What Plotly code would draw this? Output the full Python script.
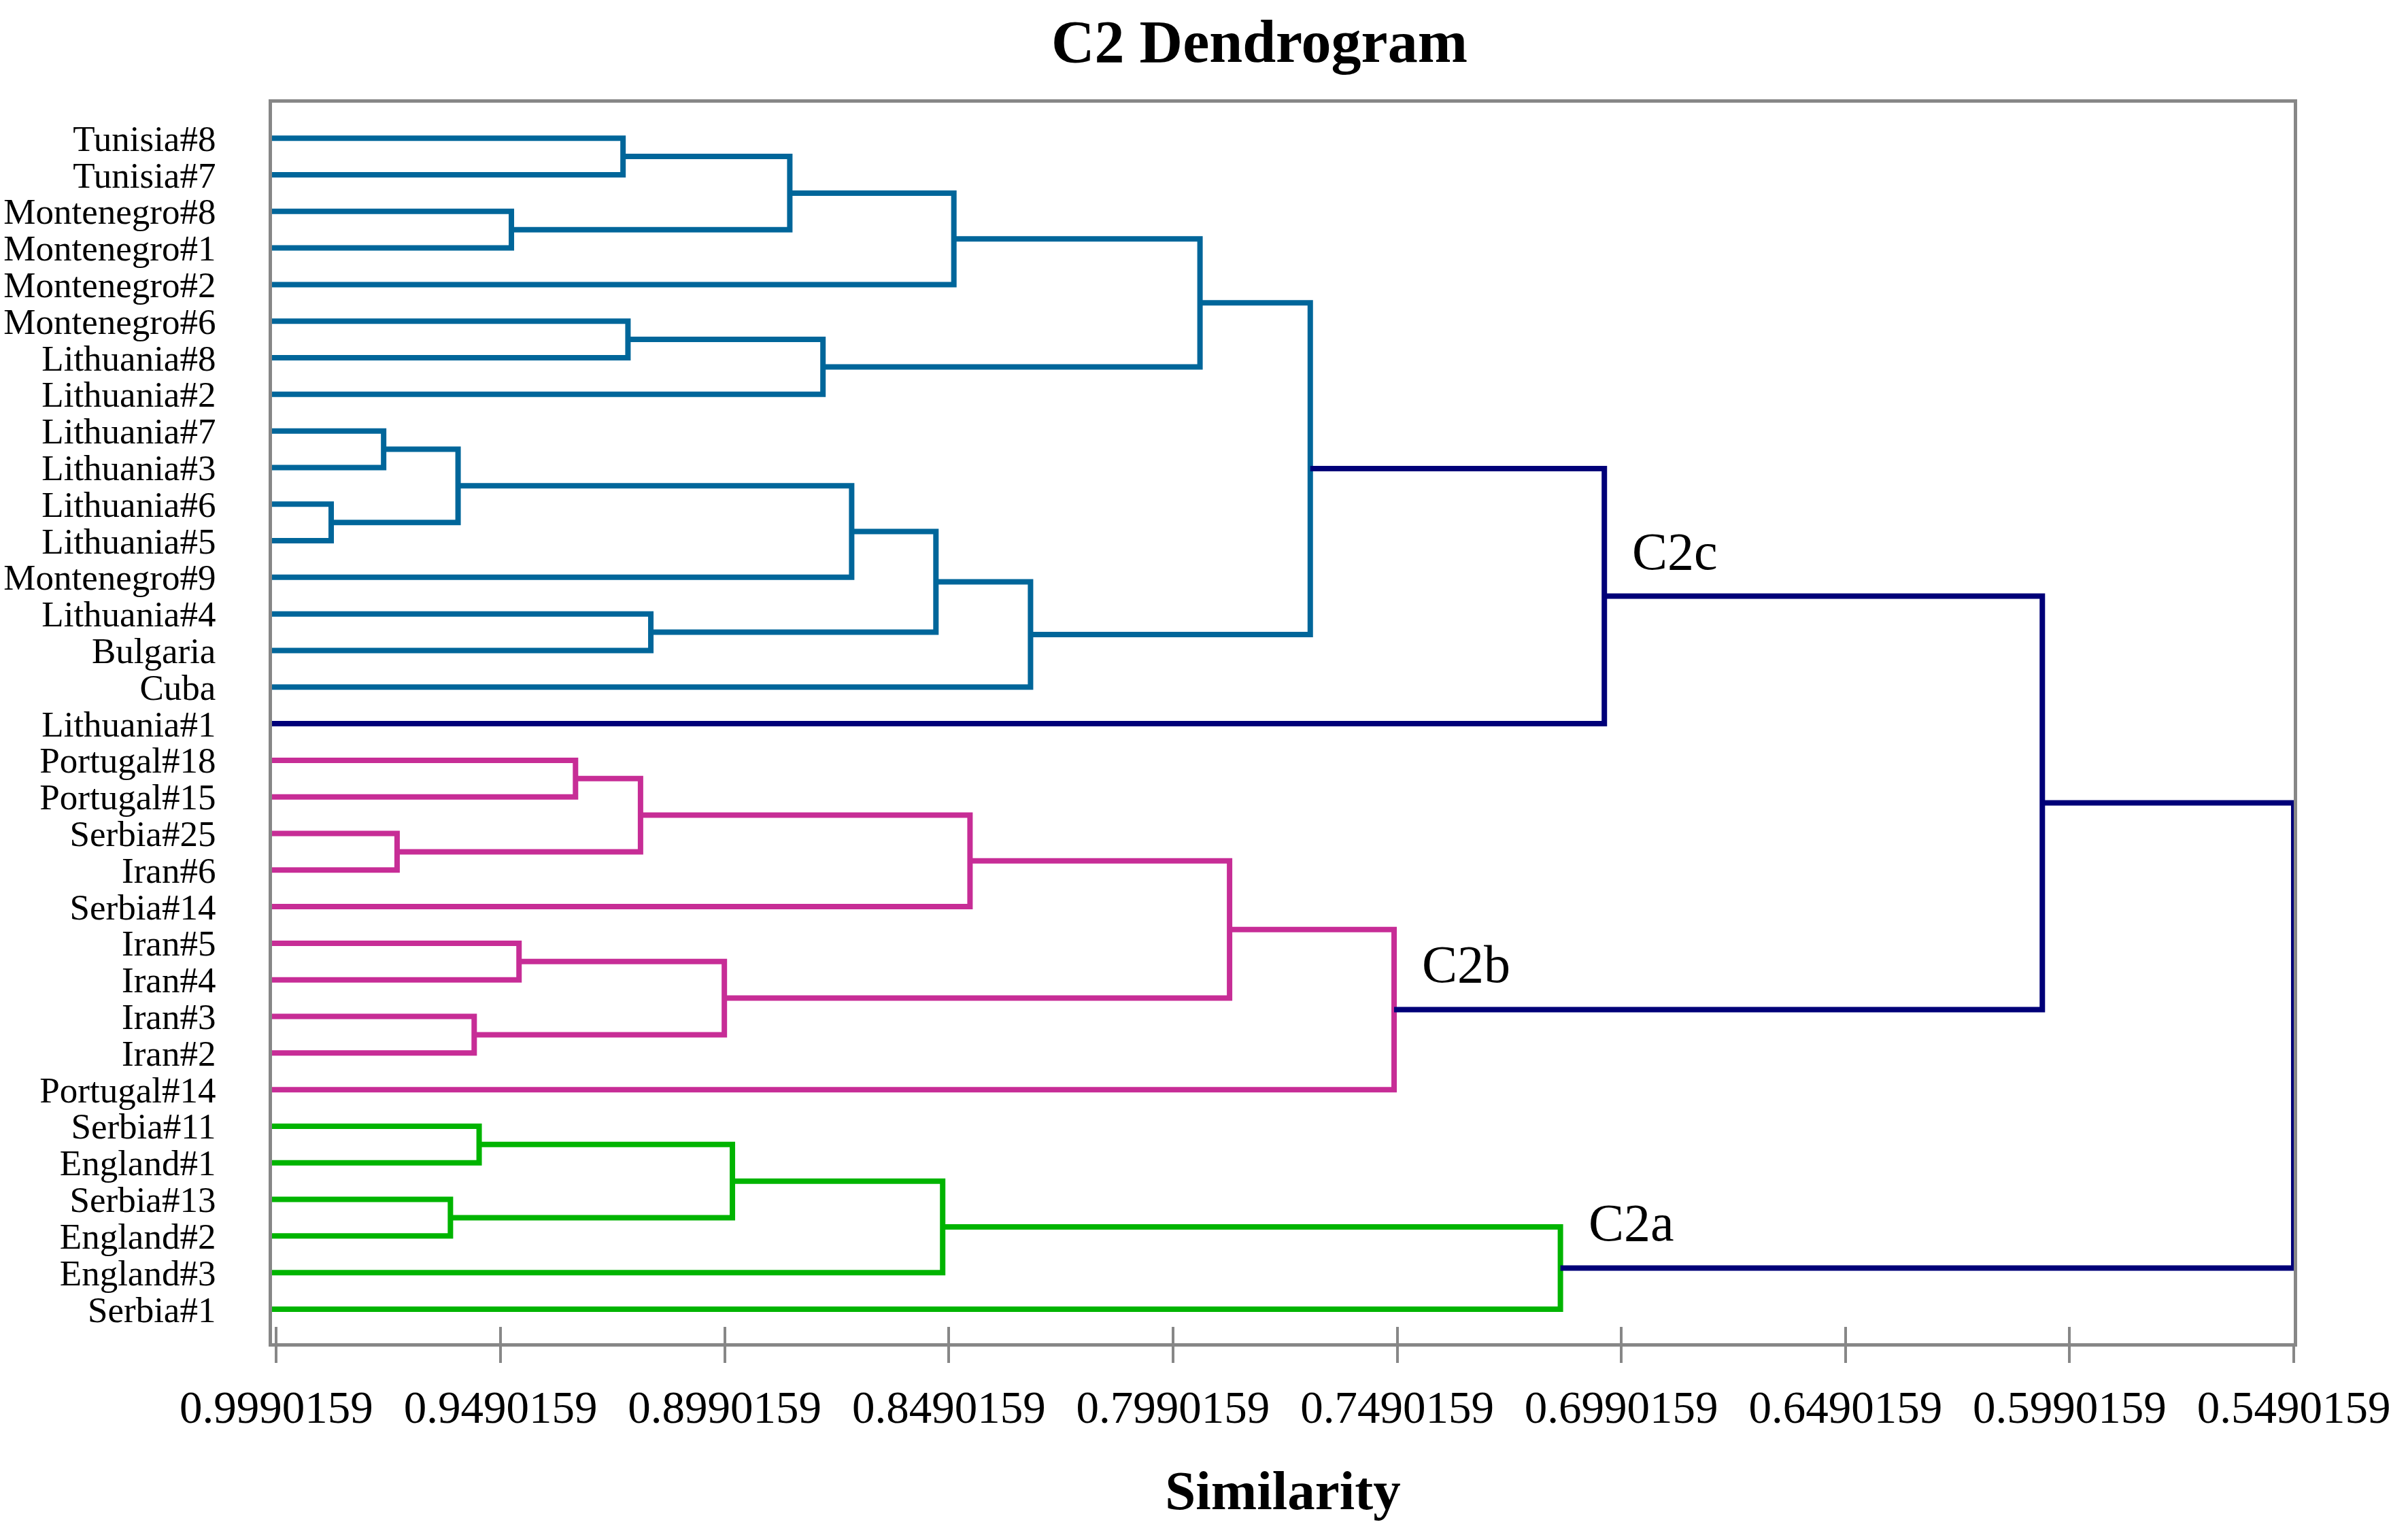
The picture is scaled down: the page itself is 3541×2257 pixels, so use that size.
import plotly.graph_objects as go

# ---------------- data ----------------
leaves = ["Tunisia#8", "Tunisia#7", "Montenegro#8", "Montenegro#1", "Montenegro#2",
          "Montenegro#6", "Lithuania#8", "Lithuania#2", "Lithuania#7", "Lithuania#3",
          "Lithuania#6", "Lithuania#5", "Montenegro#9", "Lithuania#4", "Bulgaria", "Cuba",
          "Lithuania#1", "Portugal#18", "Portugal#15", "Serbia#25", "Iran#6", "Serbia#14",
          "Iran#5", "Iran#4", "Iran#3", "Iran#2", "Portugal#14", "Serbia#11", "England#1",
          "Serbia#13", "England#2", "England#3", "Serbia#1"]
leaf_similarity = 1.0

merge_id = ["m1", "m2", "m3", "m4", "m5", "m6", "m7", "m8", "m9", "m10", "m11", "m12",
            "m13", "m14", "m15", "m16", "m17", "m18", "m19", "m20", "m21", "m22", "m23",
            "m24", "m25", "m26", "m27", "m28", "m29", "m30", "m31", "m32"]
merge_a = ["Tunisia#8", "Montenegro#8", "m1", "m3", "Montenegro#6", "m5", "m4",
           "Lithuania#7", "Lithuania#6", "m8", "m10", "Lithuania#4", "m11", "m13", "m7",
           "m15", "Portugal#18", "Serbia#25", "m17", "m19", "Iran#5", "Iran#3", "m21",
           "m20", "m24", "Serbia#11", "Serbia#13", "m26", "m28", "m29", "m16", "m31"]
merge_b = ["Tunisia#7", "Montenegro#1", "m2", "Montenegro#2", "Lithuania#8", "Lithuania#2",
           "m6", "Lithuania#3", "Lithuania#5", "m9", "Montenegro#9", "Bulgaria", "m12",
           "Cuba", "m14", "Lithuania#1", "Portugal#15", "Iran#6", "m18", "Serbia#14",
           "Iran#4", "Iran#2", "m22", "m23", "Portugal#14", "England#1", "England#2", "m27",
           "England#3", "Serbia#1", "m25", "m30"]
merge_similarity = [0.9217, 0.9466, 0.8845, 0.8479, 0.9206, 0.8771, 0.7930,
                    0.9751, 0.9868, 0.9585, 0.8707, 0.9155, 0.8519, 0.8308, 0.7684,
                    0.7028, 0.9323, 0.9721, 0.9178, 0.8443, 0.9449, 0.9549, 0.8991,
                    0.7864, 0.7497, 0.9538, 0.9602, 0.8973, 0.8504, 0.7126, 0.6051,
                    0.5490159]
merge_group = ["C2c"] * 15 + ["root"] + ["C2b"] * 9 + ["C2a"] * 5 + ["root", "root"]

cluster_labels = ["C2c", "C2b", "C2a"]
cluster_nodes = ["m16", "m25", "m30"]

tick_values = [0.9990159, 0.9490159, 0.8990159, 0.8490159, 0.7990159,
               0.7490159, 0.6990159, 0.6490159, 0.5990159, 0.5490159]
tick_labels = ["0.9990159", "0.9490159", "0.8990159", "0.8490159", "0.7990159",
               "0.7490159", "0.6990159", "0.6490159", "0.5990159", "0.5490159"]

title_text = "C2 Dendrogram"
x_title = "Similarity"

# ---------------- style ----------------
group_colors = {"C2c": "#00669A", "C2b": "#C72D96", "C2a": "#00B400", "root": "#000078"}
GRAY = "#878787"
FONT = "Liberation Serif, Times New Roman, serif"
LW = 8

# ---------------- geometry via tree ----------------
pos = {name: (leaf_similarity, i) for i, name in enumerate(leaves)}
segs = {g: ([], []) for g in group_colors}
for mid, a, b, h, g in zip(merge_id, merge_a, merge_b, merge_similarity, merge_group):
    ha, ya = pos[a]
    hb, yb = pos[b]
    xs, ys = segs[g]
    xs += [ha, h, h, hb, None]
    ys += [ya, ya, yb, yb, None]
    pos[mid] = (h, (ya + yb) / 2)

fig = go.Figure()
for g, (xs, ys) in segs.items():
    fig.add_trace(go.Scatter(x=xs, y=ys, mode="lines",
                             line=dict(color=group_colors[g], width=LW),
                             hoverinfo="skip", showlegend=False))
# helper trace to activate the overlaid axis used for the inner half of the ticks
fig.add_trace(go.Scatter(x=tick_values, y=[None] * len(tick_values), xaxis="x2",
                         mode="lines", hoverinfo="skip", showlegend=False))

for lab, node in zip(cluster_labels, cluster_nodes):
    h, y = pos[node]
    fig.add_annotation(x=h, y=y, xref="x", yref="y", text=lab, showarrow=False,
                       xanchor="left", yanchor="bottom", xshift=39, yshift=21,
                       font=dict(family=FONT, size=78, color="black"))

xrange = [leaf_similarity, tick_values[-1]]
fig.update_layout(
    width=3541, height=2257,
    margin=dict(l=400, r=168, t=151, b=282, pad=0, autoexpand=False),
    paper_bgcolor="white", plot_bgcolor="white",
    showlegend=False,
    font=dict(family=FONT, color="black"),
    title=dict(text="<b>" + title_text + "</b>", x=1852 / 3541, xanchor="center",
               y=1 - 60 / 2257, yanchor="middle",
               font=dict(family=FONT, size=88, color="black")),
    xaxis=dict(range=xrange, tickvals=tick_values, ticktext=tick_labels,
               ticks="outside", ticklen=24, tickwidth=4, tickcolor=GRAY,
               showline=True, linewidth=5, linecolor=GRAY, mirror=True,
               showgrid=False, zeroline=False, layer="below traces",
               automargin=False,
               tickfont=dict(family=FONT, size=67, color="black"),
               ticklabelstandoff=8,
               title=dict(text="<b>" + x_title + "</b>", standoff=58,
                          font=dict(family=FONT, size=81, color="black"))),
    xaxis2=dict(range=xrange, overlaying="x", anchor="y", side="bottom",
                tickvals=tick_values, ticks="inside", ticklen=24, tickwidth=4,
                tickcolor=GRAY, showticklabels=False, showline=False,
                showgrid=False, zeroline=False, automargin=False),
    yaxis=dict(range=[32.93, -0.97], tickvals=list(range(len(leaves))), ticktext=leaves,
               ticks="", showline=True, linewidth=5, linecolor=GRAY, mirror=True,
               showgrid=False, zeroline=False, layer="below traces",
               automargin=False,
               tickfont=dict(family=FONT, size=53, color="black"),
               ticklabelstandoff=67),
)

fig.write_html("out.html", config={"displayModeBar": False},
               post_script="document.body.style.margin='0px';")
